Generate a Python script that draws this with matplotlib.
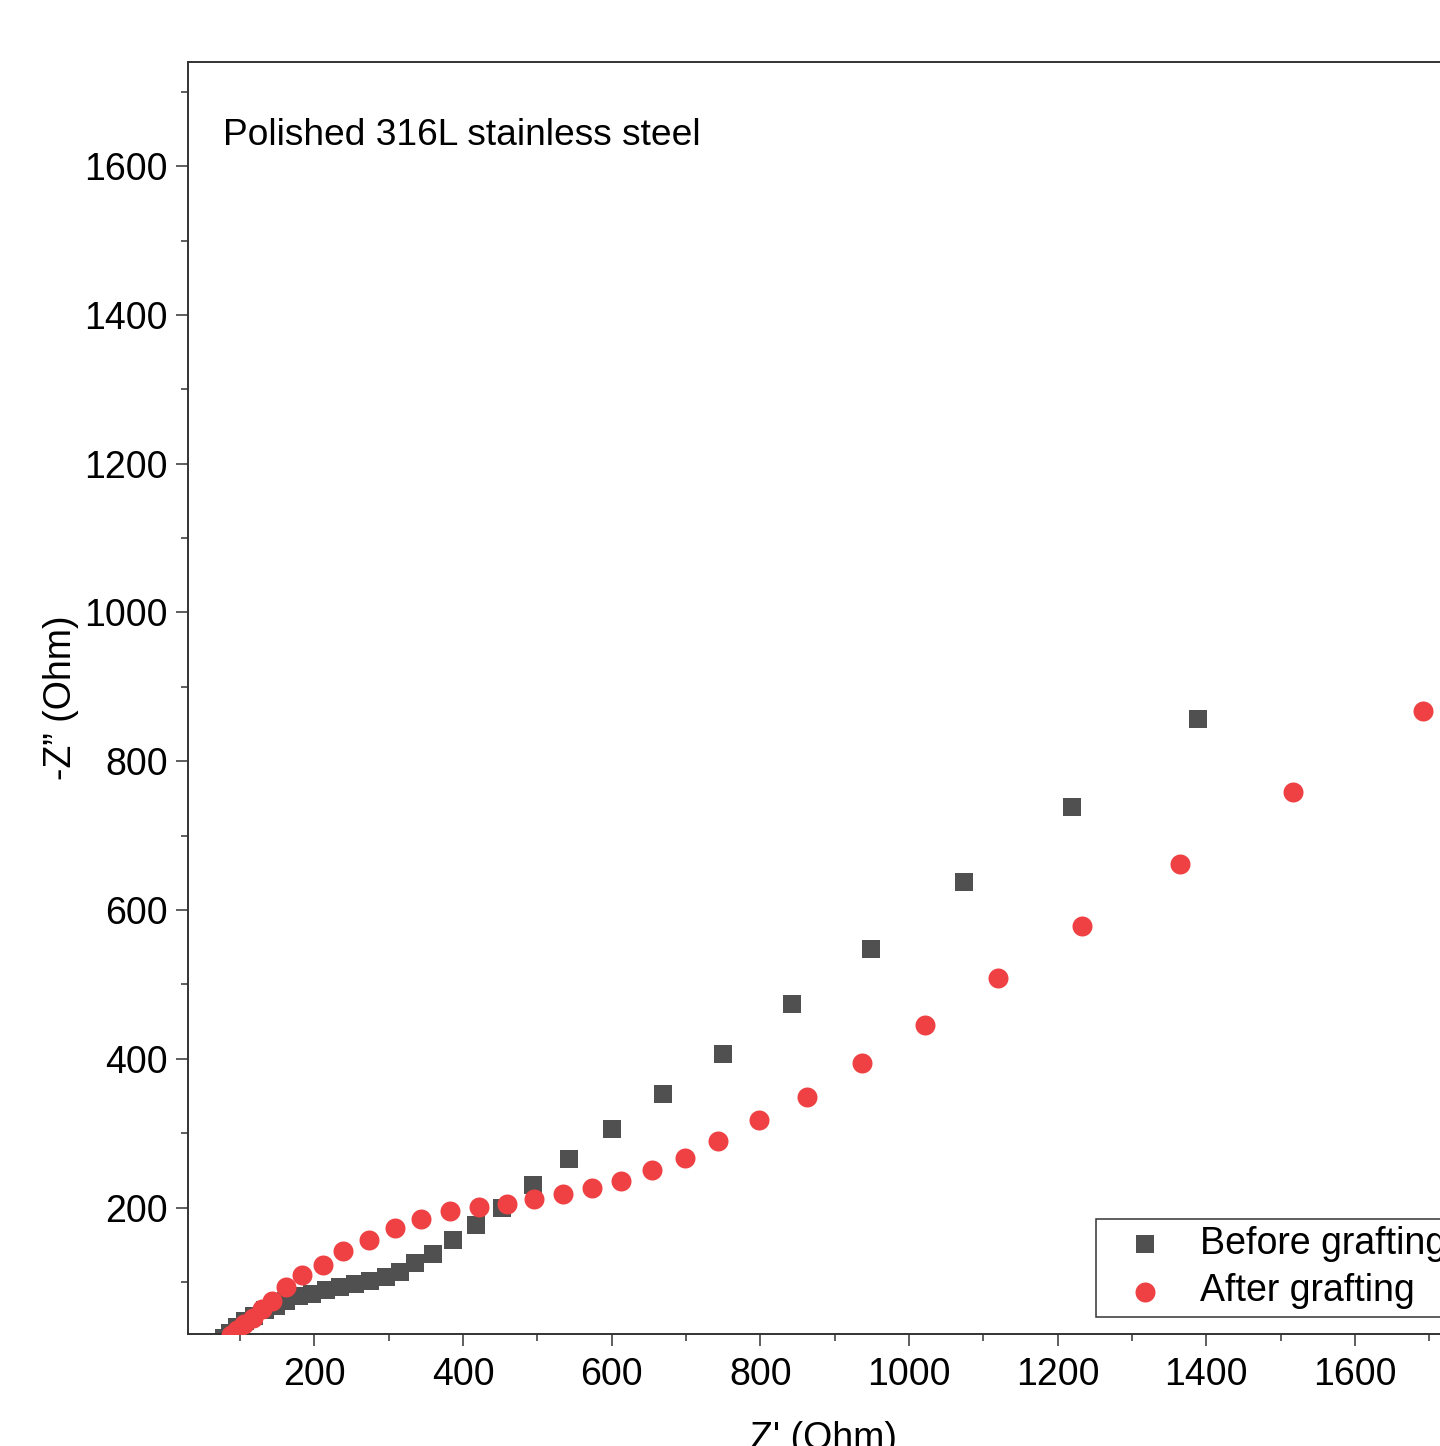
import matplotlib
matplotlib.use("Agg")
import matplotlib.pyplot as plt
from matplotlib.ticker import MultipleLocator

plt.rcParams['font.family'] = ['Liberation Sans', 'DejaVu Sans']

# Data (Nyquist plot, Ohm)
before_x = [79, 87, 96, 107, 119, 133, 148, 162, 179, 197, 216, 235, 255, 275, 296,
            315, 336, 360, 387, 418, 453, 494, 542, 601, 669, 750, 842, 949, 1074, 1220, 1389]
before_y = [25, 32, 39, 47, 54, 62, 68, 75, 81, 84, 89, 93, 97, 101, 106,
            113, 125, 138, 156, 177, 200, 230, 265, 305, 353, 407, 473, 548, 637, 739, 857]

after_x = [88, 96, 106, 117, 129, 143, 162, 184, 211, 239, 273, 308, 344, 383, 422, 459,
           496, 534, 574, 612, 654, 698, 743, 798, 863, 937, 1022, 1120, 1233, 1364, 1516, 1691]
after_y = [29, 36, 44, 52, 64, 75, 93, 109, 123, 141, 157, 172, 184, 195, 201, 205,
           212, 218, 226, 236, 250, 267, 290, 318, 348, 394, 446, 508, 579, 662, 759, 868]

labels = ["Before grafting", "After grafting"]
annotation = "Polished 316L stainless steel"

W, H = 1440, 1446
fig = plt.figure(figsize=(W / 100, H / 100), dpi=100)
ax = fig.add_axes([188 / W, (H - 1334) / H, 1271 / W, 1272 / H])

ax.scatter(before_x, before_y, marker='s', s=13.0 ** 2, color='#505050',
           linewidths=0, label=labels[0], zorder=2)
ax.scatter(after_x, after_y, marker='o', s=14.4 ** 2, color='#EF4143',
           linewidths=0, label=labels[1], zorder=3)

ax.set_xlim(30, 1740)
ax.set_ylim(30, 1740)

ax.xaxis.set_major_locator(MultipleLocator(200))
ax.xaxis.set_minor_locator(MultipleLocator(100))
ax.yaxis.set_major_locator(MultipleLocator(200))
ax.yaxis.set_minor_locator(MultipleLocator(100))

ax.tick_params(which='both', direction='out', top=False, right=False,
               width=1.1, color='#333333', labelsize=27)
ax.tick_params(axis='x', pad=8)
ax.tick_params(axis='y', pad=6)
ax.tick_params(which='major', length=8.5)
ax.tick_params(which='minor', length=5)

for sp in ax.spines.values():
    sp.set_linewidth(1.4)
    sp.set_color('#333333')

ax.set_xlabel("Z' (Ohm)", fontsize=27, labelpad=20)
ax.set_ylabel("-Z\u201d (Ohm)", fontsize=27, labelpad=4)

ax.text(0.0275, 0.9347, annotation, transform=ax.transAxes, fontsize=26.7,
        ha='left', va='baseline')

leg = ax.legend(loc='lower left', bbox_to_anchor=(0.7144, 0.0134), borderaxespad=0,
                fontsize=27, frameon=True, fancybox=False, edgecolor='black',
                borderpad=0.2, labelspacing=0.3, handlelength=2.2, handletextpad=0.37,
                markerscale=1.0)
leg.get_frame().set_linewidth(1.1)

fig.savefig("out.png", dpi=100)
